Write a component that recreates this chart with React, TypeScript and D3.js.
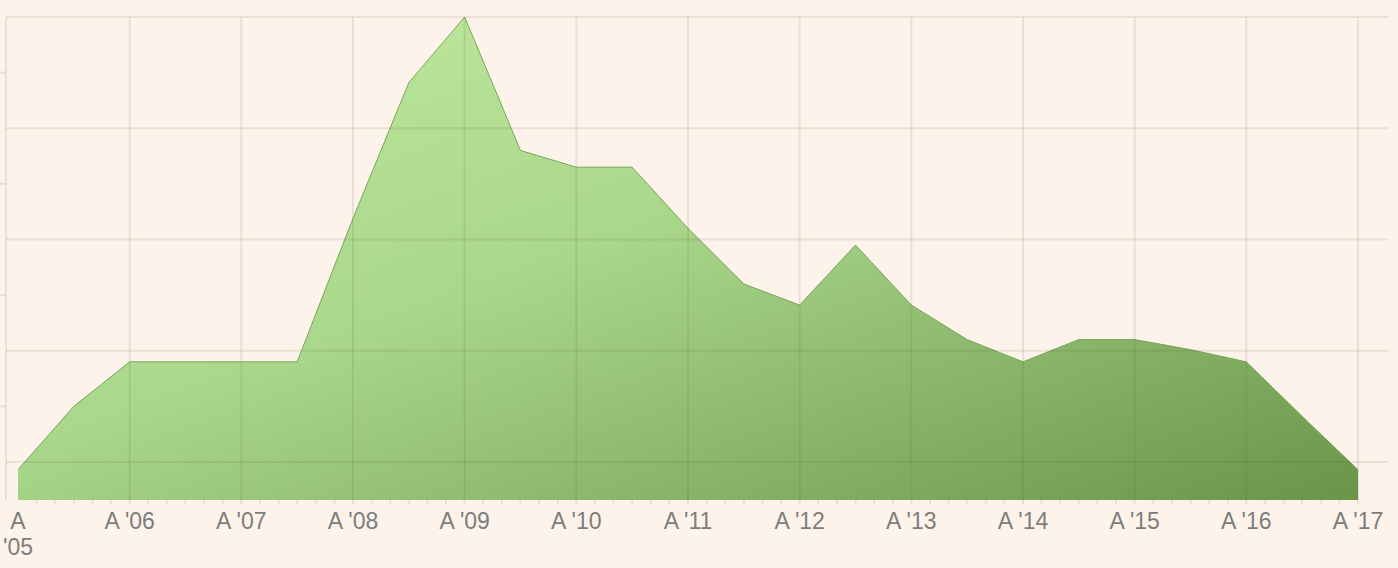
import React from "react";
import * as d3 from "d3";

// semiannual observations, starting Aug 2005 (month index 0, step 6 months)
const monthIndex = [0, 6, 12, 18, 24, 30, 36, 42, 48, 54, 60, 66, 72, 78, 84, 90, 96, 102, 108, 114, 120, 126, 132, 138, 144];
const values = [0.93, 1.5, 1.9, 1.9, 1.9, 1.9, 3.19, 4.41, 5.0, 3.8, 3.65, 3.65, 3.1, 2.6, 2.41, 2.95, 2.41, 2.1, 1.9, 2.1, 2.1, 2.01, 1.9, 1.41, 0.93];
const yearTickLabels = ["A '05", "A '06", "A '07", "A '08", "A '09", "A '10", "A '11", "A '12", "A '13", "A '14", "A '15", "A '16", "A '17"];
const yMajorTicks = [1, 2, 3, 4, 5];
const yMinorTicks = [1.5, 2.5, 3.5, 4.5];

const W = 1398;
const H = 568;

export default function App() {
  const x = d3.scaleLinear().domain([0, 144]).range([18, 1358]);
  const y = d3.scaleLinear().domain([0.658, 5]).range([500, 17]);
  const data = monthIndex.map((m, i) => ({ m, v: values[i] }));
  const area = d3
    .area<{ m: number; v: number }>()
    .x((d) => x(d.m))
    .y0(y(0.658))
    .y1((d) => y(d.v));
  const line = d3
    .line<{ m: number; v: number }>()
    .x((d) => x(d.m))
    .y((d) => y(d.v));
  const gridColor = "rgba(95,75,55,0.11)";
  const minorMonths = d3.range(2, 145, 2);
  const yearMonths = yearTickLabels.map((_, i) => i * 12);
  return (
    <svg
      width={W}
      height={H}
      style={{ position: "absolute", left: 0, top: 0, fontFamily: "'Liberation Sans', Arial, sans-serif" }}
    >
      <defs>
        <linearGradient id="g" x1="0" y1="0" x2="1" y2="1">
          <stop offset="0" stopColor="#c2eba2" />
          <stop offset="0.45" stopColor="#a9d78b" />
          <stop offset="1" stopColor="#6a9549" />
        </linearGradient>
      </defs>
      <rect width={W} height={H} fill="#fdf3ea" />
      <path d={area(data) || ""} fill="url(#g)" />
      <path d={line(data) || ""} fill="none" stroke="#78a85a" strokeWidth={1} />
      {/* horizontal gridlines */}
      {yMajorTicks.map((t) => (
        <line key={"h" + t} x1={6} x2={1388} y1={y(t)} y2={y(t)} stroke={gridColor} strokeWidth={2} />
      ))}
      {yMinorTicks.map((t) => (
        <line key={"hm" + t} x1={0} x2={6} y1={y(t)} y2={y(t)} stroke={gridColor} strokeWidth={2} />
      ))}
      {/* y axis line */}
      <line x1={6} x2={6} y1={y(5)} y2={500} stroke={gridColor} strokeWidth={2} />
      {/* vertical gridlines */}
      {yearMonths.slice(1).map((m) => (
        <line key={"v" + m} x1={x(m)} x2={x(m)} y1={y(5)} y2={500} stroke={gridColor} strokeWidth={2} />
      ))}
      {/* minor bottom ticks */}
      {minorMonths.map((m) => (
        <line key={"mt" + m} x1={x(m)} x2={x(m)} y1={500} y2={504} stroke={gridColor} strokeWidth={2} />
      ))}
      {/* labels */}
      {yearTickLabels.map((lab, i) => {
        const cx = x(i * 12);
        if (i === 0) {
          const parts = lab.split(" ");
          return (
            <text key={lab} x={cx} y={529} textAnchor="middle" fontSize={23} fill="#7d7d7d">
              <tspan x={cx} y={529}>{parts[0]}</tspan>
              <tspan x={cx} y={555}>{parts[1]}</tspan>
            </text>
          );
        }
        return (
          <text key={lab} x={cx} y={529} textAnchor="middle" fontSize={23} fill="#7d7d7d">
            {lab}
          </text>
        );
      })}
    </svg>
  );
}
